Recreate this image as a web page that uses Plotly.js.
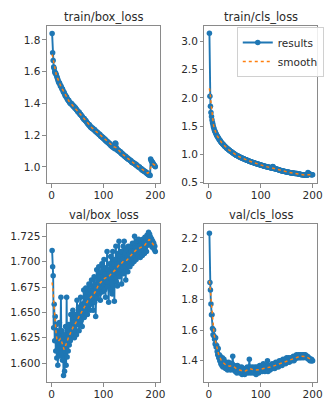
<!DOCTYPE html>
<html>
<head>
<meta charset="utf-8">
<script src="https://cdn.plot.ly/plotly-3.0.1.min.js"></script>
<style>
html,body{margin:0;padding:0;background:#fff;}
#chart{width:324px;height:399px;}
</style>
</head>
<body>
<div id="chart"></div>
<script>
// ---- data (epochs 1..200) ----
const epochs = Array.from({length: 200}, (_, i) => i + 1);

const trainBoxLoss = [
1.84,1.72,1.67,1.63,1.62,1.60,1.59,1.59,1.58,1.57,
1.56,1.55,1.54,1.53,1.53,1.52,1.51,1.51,1.50,1.49,
1.49,1.48,1.47,1.47,1.46,1.45,1.45,1.44,1.44,1.43,
1.425,1.418,1.42,1.41,1.405,1.40,1.402,1.395,1.398,1.39,
1.385,1.38,1.384,1.375,1.37,1.372,1.365,1.36,1.358,1.35,
1.348,1.342,1.345,1.336,1.33,1.332,1.325,1.32,1.318,1.31,
1.308,1.30,1.305,1.296,1.29,1.292,1.285,1.28,1.276,1.27,
1.268,1.262,1.265,1.256,1.25,1.253,1.247,1.242,1.245,1.24,
1.236,1.232,1.235,1.226,1.222,1.225,1.218,1.214,1.216,1.21,
1.206,1.202,1.205,1.196,1.192,1.195,1.188,1.184,1.186,1.18,
1.176,1.172,1.175,1.166,1.162,1.165,1.158,1.154,1.156,1.15,
1.146,1.142,1.145,1.136,1.132,1.135,1.128,1.124,1.126,1.12,
1.118,1.114,1.15,1.145,1.12,1.108,1.11,1.102,1.105,1.10,
1.096,1.092,1.095,1.086,1.082,1.085,1.078,1.074,1.076,1.07,
1.067,1.064,1.066,1.058,1.055,1.057,1.05,1.047,1.05,1.045,
1.042,1.038,1.04,1.032,1.028,1.031,1.025,1.022,1.024,1.02,
1.017,1.013,1.016,1.008,1.005,1.007,1.0,0.997,1.0,0.995,
0.992,0.988,0.99,0.982,0.978,0.981,0.975,0.972,0.974,0.97,
0.967,0.963,0.966,0.958,0.955,0.957,0.95,0.947,0.95,0.945,
1.05,1.04,1.035,1.03,1.025,1.02,1.015,1.01,1.005,1.0
];

const trainClsLoss = [
3.14,2.03,1.85,1.74,1.67,1.61,1.56,1.52,1.48,1.45,
1.42,1.40,1.38,1.36,1.34,1.32,1.31,1.29,1.28,1.26,
1.25,1.24,1.22,1.21,1.20,1.19,1.18,1.17,1.16,1.15,
1.14,1.13,1.125,1.115,1.105,1.10,1.09,1.085,1.075,1.07,
1.06,1.055,1.05,1.04,1.035,1.03,1.02,1.015,1.01,1.0,
0.995,0.99,0.986,0.98,0.976,0.97,0.966,0.96,0.956,0.95,
0.946,0.943,0.938,0.934,0.929,0.926,0.921,0.918,0.913,0.91,
0.906,0.903,0.898,0.895,0.89,0.888,0.883,0.88,0.876,0.872,
0.869,0.867,0.862,0.86,0.856,0.854,0.85,0.848,0.844,0.841,
0.838,0.836,0.832,0.83,0.826,0.824,0.82,0.818,0.814,0.811,
0.808,0.806,0.803,0.801,0.797,0.796,0.792,0.79,0.787,0.784,
0.782,0.78,0.777,0.775,0.772,0.771,0.767,0.766,0.763,0.76,
0.758,0.755,0.785,0.78,0.752,0.75,0.747,0.746,0.742,0.74,
0.737,0.735,0.731,0.729,0.725,0.723,0.719,0.717,0.713,0.71,
0.708,0.707,0.704,0.703,0.70,0.699,0.696,0.695,0.692,0.69,
0.688,0.687,0.684,0.683,0.68,0.679,0.676,0.675,0.672,0.67,
0.669,0.669,0.667,0.667,0.665,0.664,0.663,0.663,0.661,0.66,
0.658,0.657,0.654,0.653,0.65,0.649,0.646,0.645,0.642,0.64,
0.639,0.639,0.637,0.637,0.635,0.634,0.633,0.633,0.631,0.63,
0.68,0.665,0.655,0.65,0.648,0.645,0.643,0.642,0.641,0.64
];

const valBoxLoss = [
1.711,1.695,1.686,1.635,1.658,1.622,1.646,1.612,1.638,1.605,
1.632,1.598,1.628,1.615,1.64,1.607,1.622,1.665,1.61,1.632,
1.603,1.618,1.588,1.628,1.592,1.612,1.636,1.598,1.665,1.606,
1.625,1.612,1.638,1.618,1.63,1.622,1.648,1.625,1.635,1.63,
1.652,1.628,1.64,1.625,1.648,1.632,1.645,1.628,1.662,1.64,
1.638,1.655,1.632,1.648,1.64,1.665,1.642,1.658,1.636,1.652,
1.646,1.672,1.645,1.66,1.65,1.674,1.652,1.665,1.648,1.67,
1.655,1.678,1.66,1.652,1.672,1.658,1.682,1.66,1.676,1.652,
1.668,1.685,1.66,1.678,1.646,1.675,1.692,1.664,1.682,1.67,
1.695,1.668,1.685,1.662,1.69,1.675,1.698,1.67,1.685,1.678,
1.702,1.672,1.688,1.665,1.694,1.68,1.71,1.675,1.692,1.66,
1.688,1.698,1.672,1.705,1.685,1.695,1.668,1.71,1.688,1.698,
1.661,1.702,1.69,1.715,1.68,1.698,1.676,1.708,1.688,1.72,
1.685,1.705,1.692,1.71,1.678,1.702,1.695,1.715,1.688,1.72,
1.696,1.708,1.682,1.712,1.698,1.705,1.69,1.715,1.70,1.708,
1.695,1.714,1.702,1.71,1.698,1.718,1.704,1.71,1.70,1.725,
1.706,1.715,1.702,1.72,1.708,1.715,1.705,1.722,1.71,1.716,
1.704,1.72,1.71,1.718,1.706,1.722,1.712,1.718,1.708,1.724,
1.714,1.72,1.71,1.726,1.716,1.722,1.729,1.718,1.727,1.72,
1.724,1.716,1.722,1.714,1.72,1.716,1.718,1.712,1.715,1.71
];

const valClsLoss = [
2.23,1.91,1.86,1.77,1.70,1.70,1.61,1.57,1.60,1.56,
1.54,1.51,1.55,1.49,1.50,1.46,1.44,1.48,1.42,1.44,
1.40,1.43,1.38,1.41,1.37,1.42,1.36,1.39,1.41,1.37,
1.38,1.35,1.39,1.36,1.38,1.34,1.37,1.39,1.35,1.36,
1.38,1.34,1.37,1.35,1.38,1.43,1.36,1.34,1.37,1.35,
1.33,1.36,1.34,1.32,1.37,1.35,1.33,1.36,1.34,1.32,
1.35,1.33,1.36,1.31,1.34,1.32,1.35,1.33,1.31,1.34,
1.32,1.35,1.33,1.36,1.34,1.32,1.35,1.41,1.36,1.34,
1.32,1.35,1.33,1.36,1.34,1.32,1.35,1.33,1.36,1.34,
1.31,1.34,1.36,1.33,1.35,1.32,1.34,1.37,1.33,1.35,
1.34,1.36,1.33,1.35,1.38,1.34,1.36,1.33,1.35,1.37,
1.34,1.36,1.40,1.33,1.37,1.35,1.36,1.34,1.37,1.35,
1.36,1.38,1.35,1.37,1.36,1.38,1.35,1.37,1.39,1.36,
1.38,1.37,1.39,1.36,1.38,1.40,1.37,1.39,1.38,1.40,
1.37,1.39,1.41,1.38,1.40,1.39,1.41,1.38,1.40,1.42,
1.39,1.41,1.40,1.42,1.39,1.41,1.40,1.42,1.41,1.40,
1.42,1.41,1.43,1.40,1.42,1.41,1.43,1.42,1.44,1.42,
1.43,1.42,1.44,1.43,1.42,1.44,1.43,1.42,1.43,1.44,
1.43,1.42,1.44,1.43,1.43,1.44,1.42,1.43,1.42,1.43,
1.42,1.41,1.42,1.41,1.40,1.41,1.40,1.41,1.40,1.40
];

const titles = ["train/box_loss", "train/cls_loss", "val/box_loss", "val/cls_loss"];
const seriesList = [trainBoxLoss, trainClsLoss, valBoxLoss, valClsLoss];

// smoothing of the plotted series (gaussian, sigma 3, reflect), as in the source figure
function gaussSmooth(y, sigma) {
  const r = Math.round(4 * sigma);
  const w = [];
  let s = 0;
  for (let k = -r; k <= r; k++) { const v = Math.exp(-0.5 * k * k / (sigma * sigma)); w.push(v); s += v; }
  const n = y.length;
  const out = [];
  for (let i = 0; i < n; i++) {
    let acc = 0;
    for (let k = -r; k <= r; k++) {
      let j = i + k;
      if (j < 0) j = -j - 1;
      if (j >= n) j = 2 * n - j - 1;
      acc += w[k + r] * y[j];
    }
    out.push(acc / s);
  }
  return out;
}

const W = 324, H = 399;
const blue = '#1f77b4', orange = '#ff7f0e';
const traces = [];
seriesList.forEach((ys, i) => {
  const xa = i === 0 ? 'x' : 'x' + (i + 1);
  const ya = i === 0 ? 'y' : 'y' + (i + 1);
  traces.push({
    x: epochs, y: ys, xaxis: xa, yaxis: ya, type: 'scatter', mode: 'lines+markers',
    name: 'results', showlegend: i === 1,
    line: {color: blue, width: 1.9}, marker: {color: blue, size: 5.5}
  });
  traces.push({
    x: epochs, y: gaussSmooth(ys, 3), xaxis: xa, yaxis: ya, type: 'scatter', mode: 'lines',
    name: 'smooth', showlegend: i === 1,
    line: {color: orange, width: 1.5, dash: 'dot'}
  });
});

const px2x = p => p / W;
const py2y = p => 1 - p / H;

const axisCommon = {
  showline: true, mirror: true, linecolor: '#8a8a8a', linewidth: 1,
  ticks: 'outside', ticklen: 3.5, tickwidth: 1, tickcolor: '#8a8a8a',
  showgrid: false, zeroline: false,
  tickfont: {family: 'DejaVu Sans', size: 10.5, color: '#2a2a2a'}
};
const xAxisCommon = Object.assign({}, axisCommon, {tickvals: [0, 100, 200], ticklabelstandoff: -1});

const xLeft = [px2x(48), px2x(164)];
const xRight = [px2x(209), 1];
const yTop = [py2y(183), py2y(26)];
const yBot = [py2y(382), py2y(224)];

const layout = {
  width: W, height: H,
  margin: {l: 0, r: 0, t: 0, b: 0},
  paper_bgcolor: '#fff', plot_bgcolor: '#fff',
  font: {family: 'DejaVu Sans', color: '#2a2a2a'},
  showlegend: true,
  legend: {
    x: px2x(242), y: py2y(27), xanchor: 'left', yanchor: 'top',
    bgcolor: 'rgba(255,255,255,0.85)', bordercolor: '#d0d0d0', borderwidth: 1,
    font: {family: 'DejaVu Sans', size: 10.5, color: '#2a2a2a'},
    tracegroupgap: 0, itemwidth: 30
  },
  xaxis:  Object.assign({}, xAxisCommon, {domain: xLeft,  anchor: 'y',  range: [-8.95, 209.95]}),
  yaxis:  Object.assign({}, axisCommon, {domain: yTop,   anchor: 'x',  range: [0.898, 1.888], tickvals: [1.0, 1.2, 1.4, 1.6, 1.8], tickformat: '.1f'}),
  xaxis2: Object.assign({}, xAxisCommon, {domain: xRight, anchor: 'y2', range: [-8.5, 208.5]}),
  yaxis2: Object.assign({}, axisCommon, {domain: yTop,   anchor: 'x2', range: [0.494, 3.27], tickvals: [0.5, 1.0, 1.5, 2.0, 2.5, 3.0], tickformat: '.1f'}),
  xaxis3: Object.assign({}, xAxisCommon, {domain: xLeft,  anchor: 'y3', range: [-8.95, 209.95]}),
  yaxis3: Object.assign({}, axisCommon, {domain: yBot,   anchor: 'x3', range: [1.5815, 1.737], tickvals: [1.600, 1.625, 1.650, 1.675, 1.700, 1.725], tickformat: '.3f'}),
  xaxis4: Object.assign({}, xAxisCommon, {domain: xRight, anchor: 'y4', range: [-8.5, 208.5]}),
  yaxis4: Object.assign({}, axisCommon, {domain: yBot,   anchor: 'x4', range: [1.262, 2.29], tickvals: [1.4, 1.6, 1.8, 2.0, 2.2], tickformat: '.1f'}),
  annotations: [
    {text: titles[0], x: px2x(106), y: py2y(17), xref: 'paper', yref: 'paper', showarrow: false, xanchor: 'center', yanchor: 'middle', font: {family: 'DejaVu Sans', size: 11.5, color: '#2a2a2a'}},
    {text: titles[1], x: px2x(267), y: py2y(17), xref: 'paper', yref: 'paper', showarrow: false, xanchor: 'center', yanchor: 'middle', font: {family: 'DejaVu Sans', size: 11.5, color: '#2a2a2a'}},
    {text: titles[2], x: px2x(106), y: py2y(215), xref: 'paper', yref: 'paper', showarrow: false, xanchor: 'center', yanchor: 'middle', font: {family: 'DejaVu Sans', size: 11.5, color: '#2a2a2a'}},
    {text: titles[3], x: px2x(267), y: py2y(215), xref: 'paper', yref: 'paper', showarrow: false, xanchor: 'center', yanchor: 'middle', font: {family: 'DejaVu Sans', size: 11.5, color: '#2a2a2a'}}
  ]
};

Plotly.newPlot('chart', traces, layout, {staticPlot: true, displayModeBar: false});
</script>
</body>
</html>
